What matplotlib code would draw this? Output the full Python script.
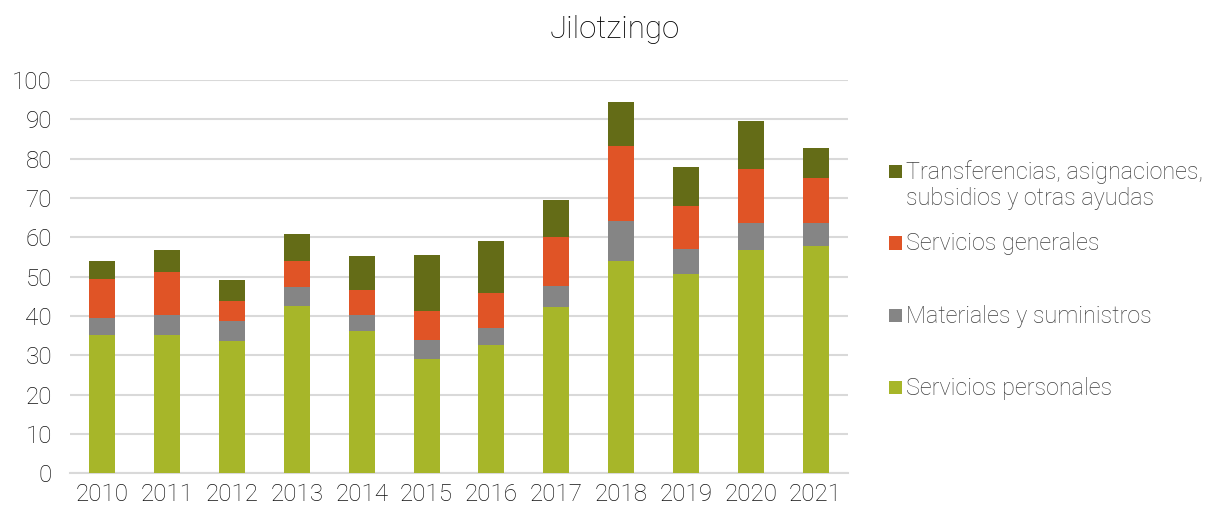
import matplotlib
matplotlib.use("Agg")
import matplotlib.pyplot as plt
from matplotlib.patches import Rectangle
import numpy as np

plt.rcParams['font.family'] = ['Roboto', 'DejaVu Sans']
plt.rcParams['font.weight'] = 'light'

years = ["2010", "2011", "2012", "2013", "2014", "2015", "2016", "2017", "2018", "2019", "2020", "2021"]
servicios_personales = [35.2, 35.1, 33.6, 42.5, 36.2, 29.1, 32.7, 42.2, 54.0, 50.6, 56.9, 57.7]
materiales = [4.2, 5.1, 5.0, 4.8, 4.1, 4.7, 4.2, 5.4, 10.2, 6.4, 6.7, 5.9]
servicios_generales = [9.9, 10.9, 5.1, 6.6, 6.2, 7.5, 8.9, 12.5, 18.9, 11.0, 13.8, 11.6]
transferencias = [4.8, 5.7, 5.4, 6.9, 8.7, 14.2, 13.3, 9.3, 11.3, 9.9, 12.2, 7.5]

names = ["Servicios personales", "Materiales y suministros", "Servicios generales",
         "Transferencias, asignaciones,\nsubsidios y otras ayudas"]
values = [servicios_personales, materiales, servicios_generales, transferencias]
colors = ["#A7B629", "#858585", "#E05426", "#646C17"]

W, H = 1213, 515
fig = plt.figure(figsize=(W / 100, H / 100), dpi=100)
ax = fig.add_axes([70 / W, 1 - 473.3 / H, (848 - 70) / W, 393.3 / H])

x = np.arange(len(years))
bottom = np.zeros(len(years))
for name, vals, col in zip(names, values, colors):
    ax.bar(x, vals, width=0.4, bottom=bottom, color=col, label=name, zorder=3)
    bottom += np.array(vals)

ax.set_ylim(0, 100)
ax.set_xlim(-0.5, len(years) - 0.5)
ax.set_yticks(range(0, 101, 10))
ax.yaxis.grid(True, color="#D9D9D9", linewidth=1.5, zorder=0)
ax.set_axisbelow(True)
for s in ["top", "right", "left"]:
    ax.spines[s].set_visible(False)
ax.spines["bottom"].set_color("#D9D9D9")
ax.spines["bottom"].set_linewidth(1.5)
ax.tick_params(axis="both", length=0, labelsize=17.5, colors="#111111")
ax.tick_params(axis="y", pad=13)
ax.tick_params(axis="x", pad=7)
ax.set_xticks(x)
ax.set_xticklabels(years)

fig.text(615 / W, 1 - 30 / H, "Jilotzingo", ha="center", va="center", fontsize=22.5, color="#000000")

# legend, drawn manually to follow the reference spacing
leg_y = [387, 315, 243, 171]  # pixel centres of marker rows (bottom to top)
for name, col, yc in zip(names, colors, leg_y):
    fig.add_artist(Rectangle((889 / W, 1 - (yc + 6.5) / H), 13 / W, 13 / H,
                             transform=fig.transFigure, facecolor=col, edgecolor="none"))
    for i, line in enumerate(name.split("\n")):
        fig.text(906 / W, 1 - (yc + 1 + 27 * i) / H, line, ha="left", va="center",
                 fontsize=16.8, color="#404040")

fig.savefig("out.png", dpi=100)
